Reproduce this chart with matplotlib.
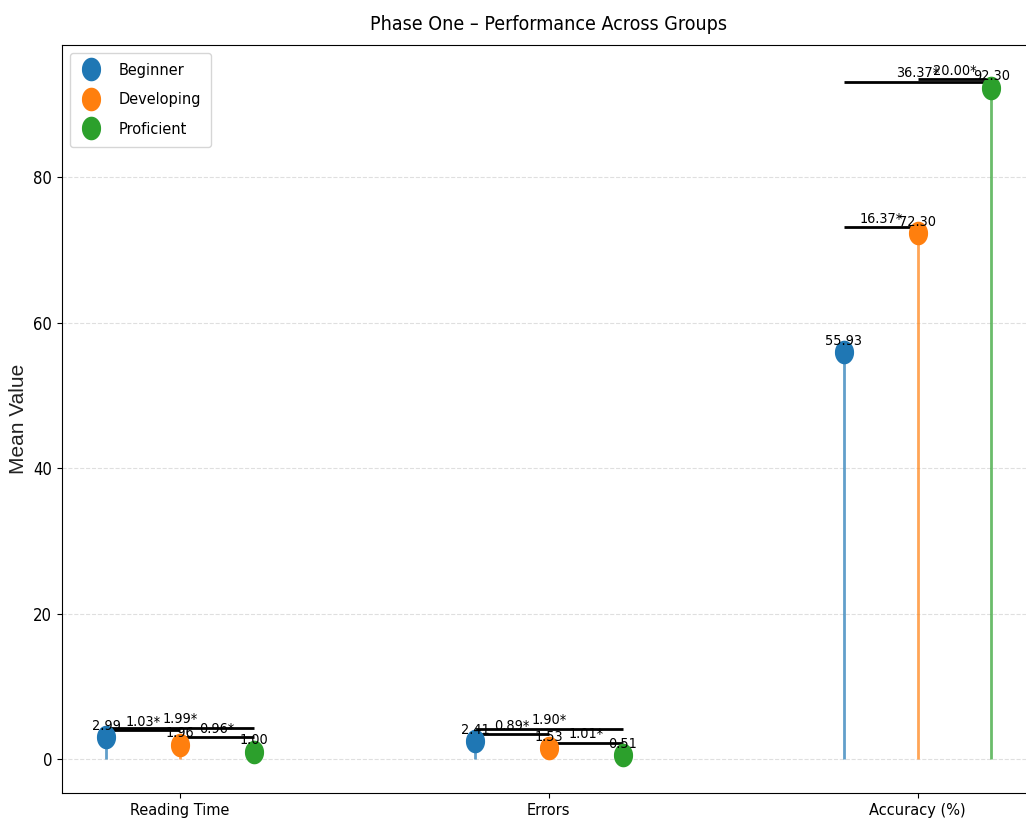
import numpy as np
import matplotlib
matplotlib.use("Agg")
import matplotlib.pyplot as plt
from matplotlib.path import Path
from matplotlib import font_manager

plt.rcParams['font.family'] = ['DejaVu Sans']
plt.rcParams['font.stretch'] = 'condensed'

# narrow text if a condensed face exists, otherwise shrink the regular one
found = font_manager.findfont(font_manager.FontProperties(family='DejaVu Sans', stretch='condensed'))
scale = 1.0 if 'Condensed' in found else 0.9

metrics = ["Reading Time", "Errors", "Accuracy (%)"]
groups = ["Beginner", "Developing", "Proficient"]
colors = ["#1f77b4", "#ff7f0e", "#2ca02c"]

# mean value per group, one list per metric
reading_time = [2.99, 1.96, 1.00]
errors = [2.414, 1.526, 0.514]
accuracy = [55.93, 72.30, 92.30]

# pairwise comparisons (group i, group j) and the height of each bracket
pairs = [(0, 1), (0, 2), (1, 2)]
bracket_y = [
    [3.99, 4.31, 2.98],
    [3.40, 4.13, 2.25],
    [73.1, 93.1, 93.5],
]

means = [reading_time, errors, accuracy]
offsets = [-0.2, 0.0, 0.2]

# slightly tall ellipse for the lollipop heads
theta = np.linspace(0, 2 * np.pi, 60)
head = Path(np.column_stack([0.8 * np.cos(theta), np.sin(theta)]), closed=True)

fig = plt.figure(figsize=(10.26, 8.25), dpi=100)
ax = fig.add_axes([0.0604, 0.0388, 0.949, 0.9067])

x = np.arange(len(metrics))
for g, name in enumerate(groups):
    xs = x + offsets[g]
    ys = [m[g] for m in means]
    ax.vlines(xs, 0, ys, color=colors[g], lw=2, alpha=0.7)
    ax.plot(xs, ys, linestyle="none", marker=head, markersize=16,
            color=colors[g], label=name, zorder=3)
    for xi, yi in zip(xs, ys):
        ax.text(xi, yi + 0.6, f"{yi:.2f}", ha="center", va="bottom", fontsize=10.4 * scale)

for m, vals in enumerate(means):
    for (i, j), h in zip(pairs, bracket_y[m]):
        x1, x2 = m + offsets[i], m + offsets[j]
        ax.hlines(h, x1, x2, color="black", lw=2)
        diff = abs(vals[i] - vals[j])
        ax.text((x1 + x2) / 2, h + 0.2, f"{diff:.2f}*", ha="center", va="bottom",
                fontsize=10.4 * scale)

ax.set_xticks(x)
ax.set_xticklabels(metrics, fontsize=11.7 * scale)
ax.tick_params(axis="y", labelsize=12 * scale)
ax.set_ylabel("Mean Value", fontsize=15, family="Liberation Sans", stretch="normal",
              color="#222222")
ax.set_title("Phase One – Performance Across Groups", fontsize=14 * scale, pad=11)
ax.grid(axis="y", linestyle="--", alpha=0.4)
ax.set_axisbelow(True)
ax.legend(loc="upper left", fontsize=11.7 * scale, borderpad=0.6, labelspacing=0.9,
          handlelength=1.4, handletextpad=1.0)

fig.savefig("out.png", dpi=100)
